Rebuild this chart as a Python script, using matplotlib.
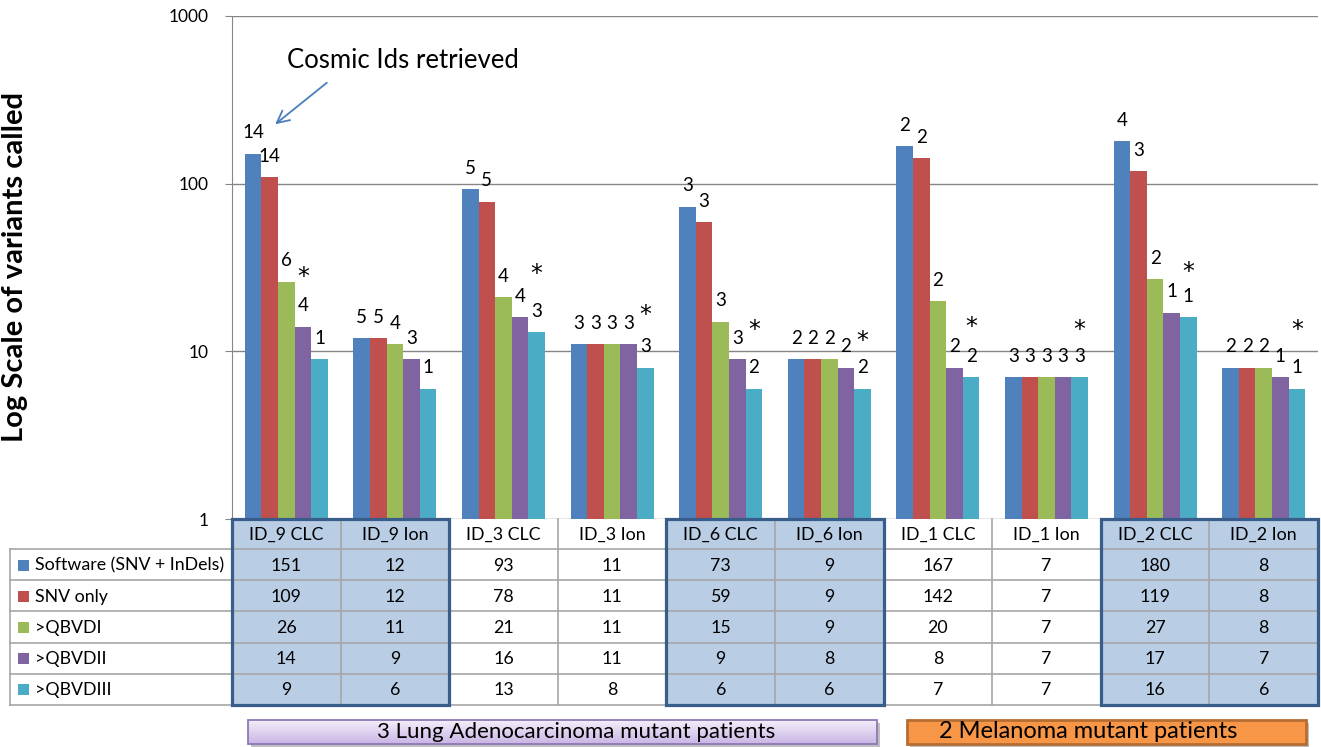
import numpy as np
import matplotlib
matplotlib.use("Agg")
import matplotlib.pyplot as plt
from matplotlib.patches import Rectangle

plt.rcParams['font.family'] = ['Lato', 'DejaVu Sans']

# ---- data ----
samples = ['ID_9 CLC', 'ID_9 Ion', 'ID_3 CLC', 'ID_3 Ion', 'ID_6 CLC',
           'ID_6 Ion', 'ID_1 CLC', 'ID_1 Ion', 'ID_2 CLC', 'ID_2 Ion']
series_names = ['Software (SNV + InDels)', 'SNV only', '>QBVDI', '>QBVDII', '>QBVDIII']

software = [151, 12, 93, 11, 73, 9, 167, 7, 180, 8]
snv_only = [109, 12, 78, 11, 59, 9, 142, 7, 119, 8]
qbvd1 = [26, 11, 21, 11, 15, 9, 20, 7, 27, 8]
qbvd2 = [14, 9, 16, 11, 9, 8, 8, 7, 17, 7]
qbvd3 = [9, 6, 13, 8, 6, 6, 7, 7, 16, 6]

# cosmic ids retrieved, printed above each bar
cosmic_software = [14, 5, 5, 3, 3, 2, 2, 3, 4, 2]
cosmic_snv = [14, 5, 5, 3, 3, 2, 2, 3, 3, 2]
cosmic_q1 = [6, 4, 4, 3, 3, 2, 2, 3, 2, 2]
cosmic_q2 = [4, 3, 4, 3, 3, 2, 2, 3, 1, 1]
cosmic_q3 = [1, 1, 3, 3, 2, 2, 2, 3, 1, 1]

# asterisks: which bar they sit over and at what height (None = no asterisk)
star_bar = [3, None, 4, 4, 4, 4, 4, 4, 4, 4]
star_height = [29, None, 30, 17, 14, 12, 14.5, 14, 31, 14]

highlighted = [0, 1, 4, 5, 8, 9]
group_labels = ['3 Lung Adenocarcinoma mutant patients', '2 Melanoma mutant patients']

values = [software, snv_only, qbvd1, qbvd2, qbvd3]
cosmic = [cosmic_software, cosmic_snv, cosmic_q1, cosmic_q2, cosmic_q3]
colors = ['#4f81bd', '#c0504d', '#9bbb59', '#8064a2', '#4bacc6']

W, H = 1321, 747
fig = plt.figure(figsize=(W / 100, H / 100), dpi=100)

# plot area in pixels
L, R, T, B = 232, 1318, 16, 519
ax = fig.add_axes([L / W, (H - B) / H, (R - L) / W, (B - T) / H])

x = np.arange(len(samples))
bw = 0.153
for j in range(5):
    pos = x + (j - 2) * bw
    ax.bar(pos, values[j], width=bw, color=colors[j], zorder=3)
    for i in range(len(samples)):
        ax.annotate(str(cosmic[j][i]), (pos[i], values[j][i]), xytext=(0, 15),
                    textcoords='offset points', ha='center', va='center',
                    fontsize=13.5, color='#000000', zorder=4)

for i in range(len(samples)):
    if star_bar[i] is not None:
        ax.annotate('*', (x[i] + (star_bar[i] - 2) * bw, star_height[i]),
                    xytext=(0, -2), textcoords='offset points', ha='center',
                    va='center', fontsize=17, family='DejaVu Sans', zorder=4)

ax.set_yscale('log')
ax.set_ylim(1, 1000)
ax.set_xlim(-0.5, len(samples) - 0.5)
ax.set_xticks([])
ax.set_yticks([1, 10, 100, 1000])
ax.set_yticklabels(['1', '10', '100', '1000'])
ax.yaxis.set_minor_locator(matplotlib.ticker.NullLocator())
ax.tick_params(axis='y', length=5, color='#868686', labelsize=12.5, pad=12)
ax.grid(axis='y', color='#868686', linewidth=1, zorder=0)
for s in ['top', 'right', 'bottom']:
    ax.spines[s].set_visible(False)
ax.spines['left'].set_color('#868686')
ax.set_ylabel('Log Scale of variants called', fontsize=21, fontweight='bold',
              labelpad=0)
ax.yaxis.set_label_coords(-(L - 28) / (R - L), 0.5)

# overlay in pixel coordinates for the table and notes
ov = fig.add_axes([0, 0, 1, 1], facecolor='none')
ov.set_xlim(0, W)
ov.set_ylim(H, 0)
ov.axis('off')

cw = (R - L) / len(samples)
rows_top = 549
rh = 31.2
table_bottom = rows_top + 5 * rh
line_c = '#a6a6a6'

# shaded column boxes
for k in range(0, len(highlighted), 2):
    c0 = highlighted[k]
    ov.add_patch(Rectangle((L + c0 * cw, B), 2 * cw, table_bottom - B,
                           facecolor='#b9cde5', edgecolor='none', zorder=1))

# grid lines
for r in range(6):
    y = rows_top + r * rh
    ov.plot([10, R], [y, y], color=line_c, lw=1.2, zorder=2)
ov.plot([10, 10], [rows_top, table_bottom], color=line_c, lw=1.2, zorder=2)
for c in range(len(samples) + 1):
    xx = L + c * cw
    ov.plot([xx, xx], [B, table_bottom], color=line_c, lw=1.2, zorder=2)

for k in range(0, len(highlighted), 2):
    c0 = highlighted[k]
    ov.add_patch(Rectangle((L + c0 * cw, B), 2 * cw, table_bottom - B,
                           facecolor='none', edgecolor='#385d8a', lw=2.3, zorder=3))

# header and values
for i, name in enumerate(samples):
    cx = L + (i + 0.5) * cw
    ov.text(cx, (B + rows_top) / 2 + 1, name, ha='center', va='center', fontsize=12.8)
    for j in range(5):
        cy = rows_top + (j + 0.5) * rh
        ov.text(cx, cy + 1, str(values[j][i]), ha='center', va='center', fontsize=12.8)

for j, name in enumerate(series_names):
    cy = rows_top + (j + 0.5) * rh
    ov.add_patch(Rectangle((18, cy - 5), 11, 11, facecolor=colors[j], edgecolor='none', zorder=3))
    ov.text(35, cy + 1, name, ha='left', va='center', fontsize=12.8)

# callout
ov.annotate('', xy=(273, 126), xytext=(329, 81),
            arrowprops=dict(arrowstyle='->', color='#4a7ebb', lw=1.3, mutation_scale=22))
ov.text(287, 61, 'Cosmic Ids retrieved', ha='left', va='center', fontsize=18.5)

# patient group boxes
grad = np.linspace(0, 1, 50).reshape(-1, 1)
lav = matplotlib.colors.LinearSegmentedColormap.from_list('lav', ['#f4eefb', '#c9b5e4'])
ov.add_patch(Rectangle((251, 723), 629, 24, facecolor='#bfbfbf', edgecolor='none', zorder=1))
ov.imshow(grad, cmap=lav, aspect='auto', extent=(248, 877, 744, 720), zorder=2)
ov.add_patch(Rectangle((248, 720), 629, 24, facecolor='none', edgecolor='#8d79b5', lw=1.3, zorder=3))
ov.text(576, 732, group_labels[0], ha='center', va='center', fontsize=16)

ov.add_patch(Rectangle((910, 723), 399, 24, facecolor='#bfbfbf', edgecolor='none', zorder=1))
ov.add_patch(Rectangle((907, 720), 399, 24, facecolor='#f79646', edgecolor='#b66d31', lw=2, zorder=3))
ov.text(1088, 732, group_labels[1], ha='center', va='center', fontsize=17, zorder=4)
ov.set_xlim(0, W)
ov.set_ylim(H, 0)

fig.savefig('out.png', dpi=100)
